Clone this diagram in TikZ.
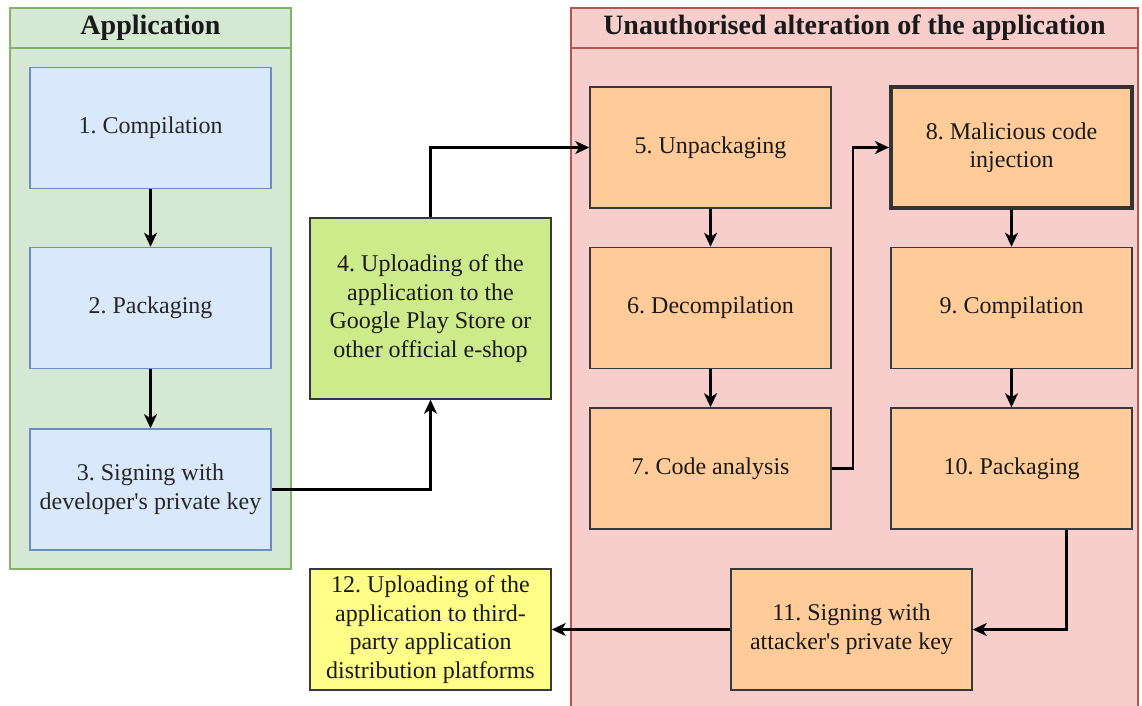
\documentclass[tikz,border=0pt]{standalone}
\usepackage{fontspec}
\setmainfont{Liberation Serif}
\usetikzlibrary{arrows.meta,calc}
\definecolor{grpG}{HTML}{D5E8D4}
\definecolor{grpGs}{HTML}{82B366}
\definecolor{grpR}{HTML}{F8CECC}
\definecolor{grpRs}{HTML}{B85450}
\definecolor{blueF}{HTML}{DAE8FC}
\definecolor{blueS}{HTML}{6C8EBF}
\definecolor{orF}{HTML}{FFCC99}
\definecolor{darkS}{HTML}{36393D}
\definecolor{limeF}{HTML}{CDEB8B}
\definecolor{yelF}{HTML}{FFFF88}
\frenchspacing
\begin{document}
\begin{tikzpicture}[x=1pt,y=-1pt,
  boxbase/.style={minimum width=241pt,minimum height=121pt,inner sep=0pt,align=center,
    font=\fontsize{24}{28.5}\selectfont,line width=1.5pt},
  bluebox/.style={boxbase,draw=blueS,fill=blueF,text=black!85},
  orbox/.style={boxbase,draw=darkS,fill=orF,text=black!90},
  limebox/.style={boxbase,draw=darkS,fill=limeF,text=black!90},
  yelbox/.style={boxbase,draw=darkS,fill=yelF,text=black!90},
  flow/.style={line width=2.2pt,-{Stealth[length=14pt,width=13pt,inset=4pt]}},
  ttl/.style={font=\fontsize{28}{32}\bfseries\selectfont,text=black!90}]
\clip (0,0) rectangle (1142,706);
\fill[white] (0,0) rectangle (1142,706);
% containers
\draw[grpGs,fill=grpG,line width=1.2pt] (10,8) rectangle (291,569);
\draw[grpGs,line width=1.2pt] (10,48) -- (291,48);
\node[ttl] (tA) at (150.5,28) {Application};
\draw[grpRs,fill=grpR,line width=1.2pt] (571,8) rectangle (1138,720);
\draw[grpRs,line width=1.2pt] (571,48) -- (1138,48);
\node[ttl] (tB) at (854.5,28) {Unauthorised alteration of the application};
% boxes
\node[bluebox] (b1) at (150.5,128) {1. Compilation};
\node[bluebox] (b2) at (150.5,308) {2. Packaging};
\node[bluebox] (b3) at (150.5,489.5) {3. Signing with\\developer\textquotesingle s private key};
\node[limebox,minimum height=181pt] (b4) at (430.5,308.5) {4. Uploading of the\\application to the\\Google Play Store or\\other official e-shop};
\node[orbox] (b5) at (710.5,147.5) {5. Unpackaging};
\node[orbox] (b6) at (710.5,308) {6. Decompilation};
\node[orbox] (b7) at (710.5,468.5) {7. Code analysis};
\node[orbox,line width=4pt,draw=black!80] (b8) at (1011.5,147.5) {8. Malicious code\\injection};
\node[orbox] (b9) at (1011.5,308) {9. Compilation};
\node[orbox] (b10) at (1011.5,468.5) {10. Packaging};
\node[orbox] (b11) at (851.5,629.5) {11. Signing with\\attacker\textquotesingle s private key};
\node[yelbox] (b12) at (430.5,629.5) {12. Uploading of the\\application to third-\\party application\\distribution platforms};
% connectors
\draw[flow] (b1) -- (b2);
\draw[flow] (b2) -- (b3);
\draw[flow] (b3.east) -| (b4.south);
\draw[flow] (b4.north) |- (b5.west);
\draw[flow] (b5) -- (b6);
\draw[flow] (b6) -- (b7);
\draw[flow] (b7.east) -- ++(21,0) |- (b8.west);
\draw[flow] (b8) -- (b9);
\draw[flow] (b9) -- (b10);
\draw[flow] ($(b10.south)+(55,0)$) |- (b11.east);
\draw[flow] (b11.west) -- (b12.east);
\end{tikzpicture}
\end{document}
